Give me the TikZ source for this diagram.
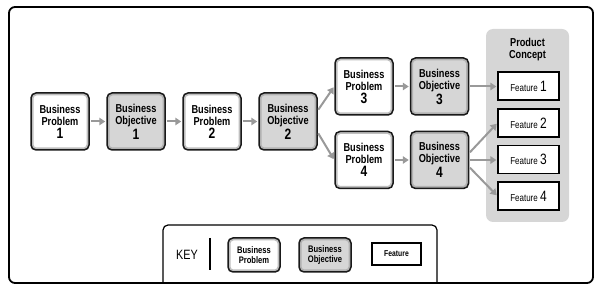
\documentclass[tikz,border=0pt]{standalone}
\usepackage{fontspec}
\setmainfont{Liberation Sans}[FakeStretch=0.8]
\usetikzlibrary{arrows.meta}
\tikzset{
 box/.style={rounded corners=5pt, draw=black!90, line width=1.5pt, minimum width=58pt, minimum height=57pt, inner sep=0pt, align=center, font=\bfseries\fontsize{11.5}{12}\selectfont},
 bp/.style={box, fill=white, path picture={\draw[gray!50,line width=5pt,rounded corners=5pt] (path picture bounding box.south west) rectangle (path picture bounding box.north east);}},
 bo/.style={box, fill=gray!32, path picture={\draw[gray!60,line width=5pt,rounded corners=5pt] (path picture bounding box.south west) rectangle (path picture bounding box.north east);}},
 kbp/.style={bp, minimum width=52pt, minimum height=34pt, font=\bfseries\fontsize{9.5}{10}\selectfont},
 kbo/.style={bo, minimum width=52pt, minimum height=34pt, font=\bfseries\fontsize{9.5}{10}\selectfont},
 feat/.style={draw=black, line width=1.2pt, fill=white, minimum width=61pt, minimum height=28pt, inner sep=0pt, font=\fontsize{10}{11}\selectfont},
 arr/.style={draw=gray!80, line width=2pt, -{Triangle[length=6pt,width=7.5pt]}, shorten >=1pt, shorten <=1pt},
}
\newcommand{\bignum}[1]{{\fontsize{15}{14}\selectfont #1}}
\begin{document}
\begin{tikzpicture}[x=1pt,y=-1pt]
\useasboundingbox (0,0) rectangle (600,291);
% product concept panel
\node[fill=gray!32, rounded corners=7pt, minimum width=83pt, minimum height=193pt, inner sep=0pt] (panel) at (527.5,125.5) {};
\node[font=\bfseries\fontsize{11.5}{12}\selectfont, align=center] (pc) at (527.5,50) {Product\\Concept};
% boxes
\node[bp] (bp1) at (60,121.5) {Business\\Problem\\[1pt]\bignum{1}};
\node[bo] (bo1) at (136,121.5) {Business\\Objective\\[1pt]\bignum{1}};
\node[bp] (bp2) at (212,121.5) {Business\\Problem\\[1pt]\bignum{2}};
\node[bo] (bo2) at (288,121.5) {Business\\Objective\\[1pt]\bignum{2}};
\node[bp] (bp3) at (364,86.5) {Business\\Problem\\[1pt]\bignum{3}};
\node[bo] (bo3) at (439.5,86.5) {Business\\Objective\\[1pt]\bignum{3}};
\node[bp] (bp4) at (364,160) {Business\\Problem\\[1pt]\bignum{4}};
\node[bo] (bo4) at (439.5,160) {Business\\Objective\\[1pt]\bignum{4}};
% features
\node[feat] (f1) at (528.5,86) {Feature \bignum{1}};
\node[feat] (f2) at (528.5,123) {Feature \bignum{2}};
\node[feat] (f3) at (528.5,159.5) {Feature \bignum{3}};
\node[feat] (f4) at (528.5,196) {Feature \bignum{4}};
% arrows
\draw[arr] (bp1.east) -- (bo1.west);
\draw[arr] (bo1.east) -- (bp2.west);
\draw[arr] (bp2.east) -- (bo2.west);
\draw[arr] ([yshift=11pt]bo2.east) -- (bp3.west);
\draw[arr] ([yshift=-11pt]bo2.east) -- (bp4.west);
\draw[arr] (bp3.east) -- (bo3.west);
\draw[arr] (bp4.east) -- (bo4.west);
\draw[arr] (bo3.east) -- (bo3.east -| f1.west);
\draw[arr] ([yshift=7pt]bo4.east) -- (f2.west);
\draw[arr] (bo4.east) -- (bo4.east -| f3.west);
\draw[arr] ([yshift=-7pt]bo4.east) -- (f4.west);
% key
\draw[line width=1.2pt, rounded corners=5pt] (163,283) -- (163,225) -- (437,225) -- (437,283);
\node[font=\fontsize{13.5}{14}\selectfont] (key) at (187,255) {KEY};
\coordinate (kt) at (210,238);
\coordinate (kb) at (210,270);
\draw[line width=1.2pt] (kt) -- (kb);
\node[kbp] (kp) at (254,255) {Business\\Problem};
\node[kbo] (ko) at (325,255) {Business\\Objective};
\node[feat, minimum width=49pt, minimum height=22pt, font=\bfseries\fontsize{8.5}{10}\selectfont] (kf) at (396.5,254) {Feature};
% frame
\draw[line width=1.8pt, rounded corners=6pt] (9,7) rectangle (593,283);
\end{tikzpicture}
\end{document}
